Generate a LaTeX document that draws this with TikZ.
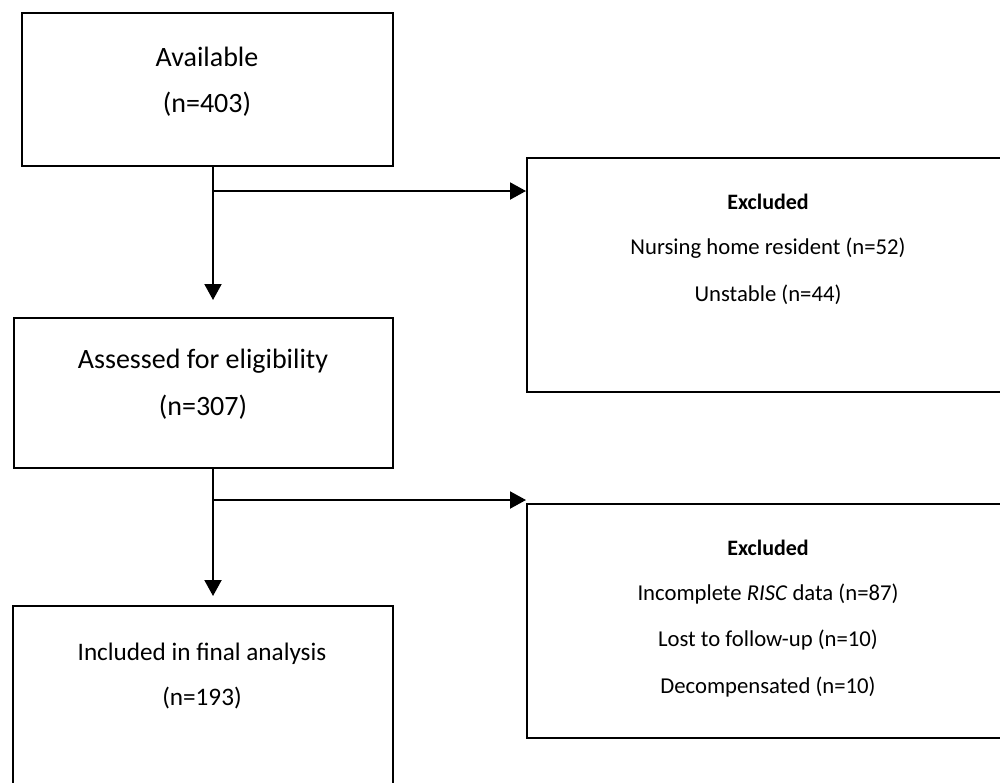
\documentclass[tikz,border=0pt]{standalone}
\usepackage{fontspec}
\setmainfont{Carlito}
\usetikzlibrary{arrows.meta,calc}
\tikzset{
  box/.style={draw=black, line width=2.4pt, fill=white, inner sep=0pt, anchor=north west},
  main/.style={font=\fontsize{28}{32}\selectfont, inner sep=0pt, anchor=base},
  mainsmall/.style={main, font=\fontsize{25.2}{30}\selectfont},
  side/.style={font=\fontsize{22.7}{26}\selectfont, inner sep=0pt, anchor=base},
  sidehead/.style={side, font=\fontsize{22}{26}\selectfont\bfseries},
  arr/.style={line width=2pt, -{Triangle[length=16pt,width=17pt]}},
  ln/.style={line width=2pt}
}
\begin{document}
\begin{tikzpicture}[x=1pt,y=-1pt]
\useasboundingbox (0,0) rectangle (1000,782);
\clip (0,0) rectangle (1000,782);
% boxes
\node[box, minimum width=371pt, minimum height=153pt] (b1) at (21,12) {};
\node[box, minimum width=379pt, minimum height=150pt] (b2) at (13,317) {};
\node[box, minimum width=380pt, minimum height=200pt] (b3) at (12,605) {};
\node[box, minimum width=490pt, minimum height=234pt] (e1) at (526,157) {};
\node[box, minimum width=490pt, minimum height=234pt] (e2) at (526,503) {};
% texts
\node[main] (t1a) at (207,66) {Available};
\node[main] (t1b) at (207,112) {(n=403)};
\node[main] (t2a) at (203,368) {Assessed for eligibility};
\node[main] (t2b) at (203,415) {(n=307)};
\node[mainsmall] (t3a) at (202,660) {Included in final analysis};
\node[mainsmall] (t3b) at (202,705) {(n=193)};
\node[sidehead] (e1a) at (768,209) {Excluded};
\node[side] (e1b) at (768,254) {Nursing home resident (n=52)};
\node[side] (e1c) at (768,301) {Unstable (n=44)};
\node[sidehead] (e2a) at (768,555) {Excluded};
\node[side] (e2b) at (768,600) {Incomplete \textit{RISC} data (n=87)};
\node[side] (e2c) at (768,646) {Lost to follow-up (n=10)};
\node[side] (e2d) at (768,693) {Decompensated (n=10)};
% connectors
\coordinate (s1) at (213,165);
\coordinate (j1) at (213,191);
\coordinate (s2) at (213,467);
\coordinate (j2) at (213,500);
\draw[arr, shorten >=17pt] (s1) -- (s1 |- b2.north);
\draw[arr] (j1) -- (e1.west |- j1);
\draw[arr, shorten >=9pt] (s2) -- (s2 |- b3.north);
\draw[arr] (j2) -- (e2.west |- j2);
\end{tikzpicture}
\end{document}
